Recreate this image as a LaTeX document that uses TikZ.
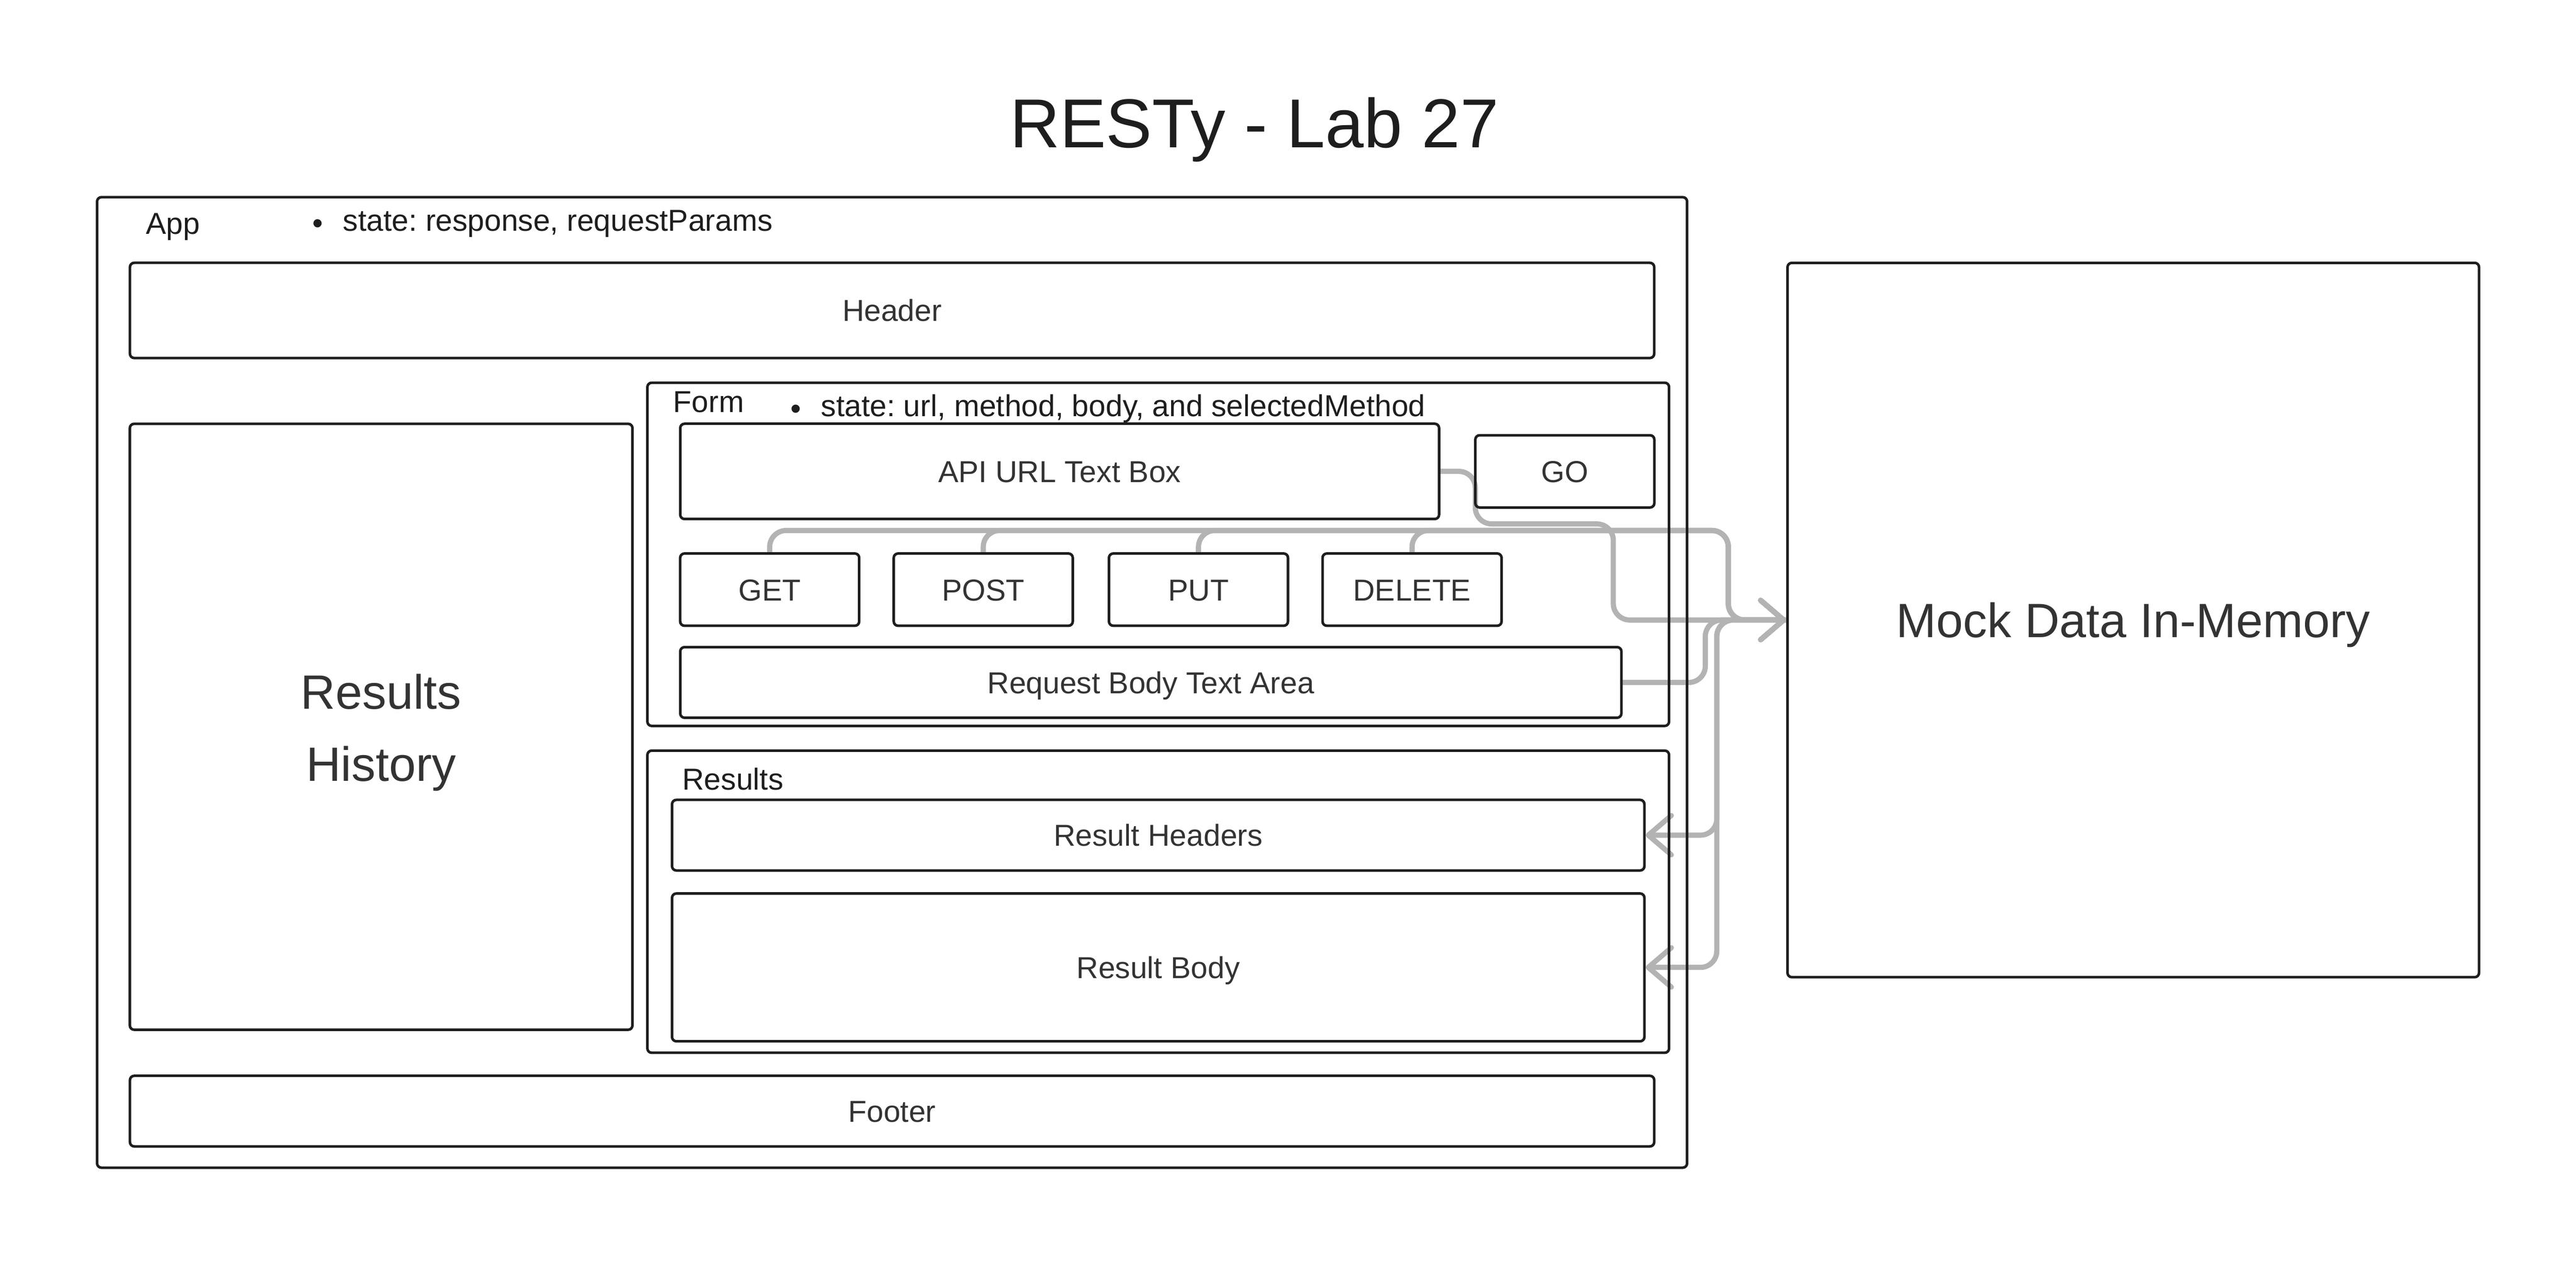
\documentclass[tikz,border=0pt]{standalone}
\usepackage{fontspec}
\setmainfont{Liberation Sans}
\frenchspacing
\usetikzlibrary{arrows.meta, calc, backgrounds}
\definecolor{ink}{HTML}{1E1E1E}
\definecolor{txt}{HTML}{333333}
\definecolor{wiregray}{HTML}{B3B3B3}

\begin{document}
\begin{tikzpicture}[x=0.02cm, y=-0.02cm,
    box/.style={draw=ink, line width=0.9pt, rounded corners=1.5pt, inner sep=0pt, text=txt,
        font=\fontsize{10.5}{12}\selectfont, text height=7.6pt, text depth=0pt},
    bigbox/.style={box, font=\fontsize{16.7}{24.9}\selectfont, text height=12pt},
    boxlabel/.style={inner sep=0pt, anchor=base west, text=ink, font=\fontsize{10.5}{12}\selectfont},
    wire/.style={draw=wiregray, line width=1.8pt, line cap=round, rounded corners=0.2cm},
    wirearrow/.style={-{Straight Barb[length=0.28cm, width=0.48cm, round]}}]
    \useasboundingbox (0,0) rectangle (1568,770);

    % title
    \node[font=\fontsize{24}{28}\selectfont, text=ink, anchor=base, inner sep=0pt] (title) at (763.5,90) {RESTy - Lab 27};

    % the App frame
    \node[box, minimum width=19.36cm, minimum height=11.82cm] (app) at (543,415.5) {};
    \node[boxlabel] (applabel) at (88.6,142.5) {App};
    \node[boxlabel] (appstate) at (190,140.5) {\raisebox{-0.1em}{\textbullet}\hspace{0.24cm}state: response, requestParams};
    \node[box, minimum width=18.56cm, minimum height=1.16cm] (header) at (543,189) {Header};
    \node[box, minimum width=6.12cm, minimum height=7.38cm] (history) at (232,442.5) {};
    \node[inner sep=0pt, text=txt, align=center, font=\fontsize{16.7}{24.9}\selectfont] (historytext) at (232,446) {Results\\History};
    \node[box, minimum width=18.56cm, minimum height=0.86cm] (footer) at (543,676.5) {Footer};

    % Form
    \node[box, minimum width=12.44cm, minimum height=4.18cm] (form) at (705,337.5) {};
    \node[boxlabel] (formlabel) at (409.5,251) {Form};
    \node[boxlabel] (formstate) at (481,253.4) {\raisebox{-0.1em}{\textbullet}\hspace{0.24cm}state: url, method, body, and selectedMethod};
    \node[box, minimum width=9.24cm, minimum height=1.16cm] (url) at (645,287) {API URL Text Box};
    \node[box, minimum width=2.18cm, minimum height=0.88cm] (go) at (952.5,287) {GO};
    \foreach \name/\x/\lbl in {get/468.5/GET, post/598.5/POST, put/729.5/PUT, delete/859.5/DELETE}
        \node[box, minimum width=2.18cm, minimum height=0.88cm] (\name) at (\x,359) {\lbl};
    \node[box, minimum width=11.46cm, minimum height=0.86cm] (reqbody) at (700.5,415.5) {Request Body Text Area};

    % Results
    \node[box, minimum width=12.44cm, minimum height=3.68cm] (results) at (705,549) {};
    \node[boxlabel] (resultslabel) at (415,481) {Results};
    \node[box, minimum width=11.84cm, minimum height=0.86cm] (resheaders) at (705,508.5) {Result Headers};
    \node[box, minimum width=11.84cm, minimum height=1.80cm] (resbody) at (705,589) {Result Body};

    % mock data
    \node[bigbox, minimum width=8.42cm, minimum height=8.70cm] (mock) at (1298.5,377.5) {Mock Data In-Memory};

    % the gray wires go under the boxes
    \begin{scope}[on background layer]
        \draw[wire, wirearrow] (url.east) -| (898,319) -| (982,0 |- mock.west) -- (mock.west);
        \foreach \name in {get,post,put,delete}
            \draw[wire, wirearrow] (\name.north) |- (1052,323) |- (mock.west);
        \draw[wire, wirearrow] (reqbody.east) -| (1038,0 |- mock.west) -- (mock.west);
        \draw[wire, wirearrow] (mock.west) -- (1045,0 |- mock.west) |- (resheaders.east);
        \draw[wire, wirearrow] (mock.west) -- (1045,0 |- mock.west) |- (resbody.east);
    \end{scope}
\end{tikzpicture}
\end{document}
